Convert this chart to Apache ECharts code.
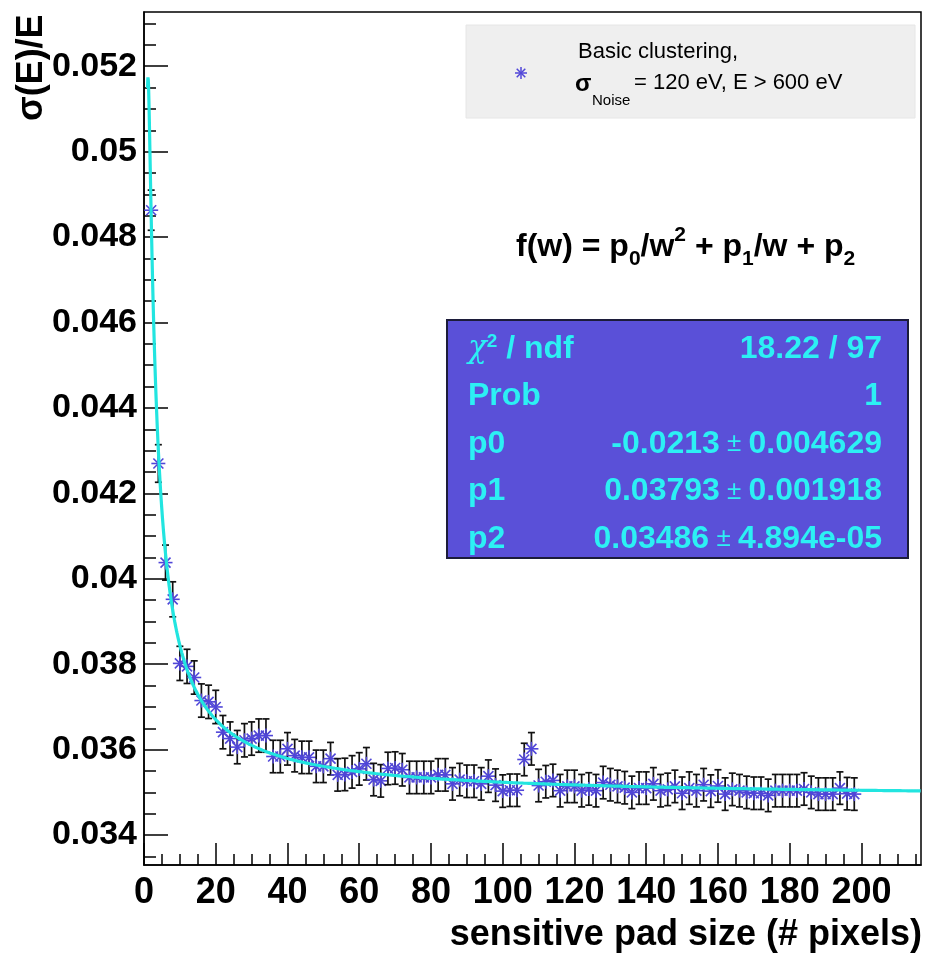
<!DOCTYPE html>
<html><head><meta charset="utf-8">
<script src="https://cdn.jsdelivr.net/npm/echarts@6/dist/echarts.min.js"></script>
<style>html,body{margin:0;padding:0;background:#fff}#c{width:926px;height:954px}</style>
</head><body><div id="c"></div>
<script>
// ---- data ----
const padSize = [2,4,6,8,10,12,14,16,18,20,22,24,26,28,30,32,34,36,38,40,42,44,46,48,50,52,54,56,58,60,62,64,66,68,70,72,74,76,78,80,82,84,86,88,90,92,94,96,98,100,102,104,106,108,110,112,114,116,118,120,122,124,126,128,130,132,134,136,138,140,142,144,146,148,150,152,154,156,158,160,162,164,166,168,170,172,174,176,178,180,182,184,186,188,190,192,194,196,198];
const sigmaE = [0.04863,0.04270,0.04038,0.03952,0.03802,0.03795,0.03769,0.03715,0.03712,0.03700,
0.03641,0.03626,0.03606,0.03622,0.03626,0.03633,0.03633,0.03584,0.03584,0.03602,
0.03586,0.03582,0.03582,0.03561,0.03561,0.03579,0.03541,0.03542,0.03548,0.03555,
0.03567,0.03530,0.03527,0.03556,0.03557,0.03553,0.03535,0.03535,0.03535,0.03535,
0.03541,0.03541,0.03520,0.03530,0.03526,0.03526,0.03520,0.03538,0.03517,0.03503,
0.03505,0.03505,0.03577,0.03602,0.03516,0.03525,0.03528,0.03504,0.03514,0.03514,
0.03504,0.03508,0.03504,0.03523,0.03518,0.03514,0.03511,0.03500,0.03510,0.03510,
0.03520,0.03504,0.03507,0.03514,0.03498,0.03510,0.03504,0.03518,0.03503,0.03515,
0.03496,0.03507,0.03504,0.03500,0.03498,0.03498,0.03493,0.03504,0.03504,0.03504,
0.03504,0.03508,0.03500,0.03496,0.03496,0.03496,0.03510,0.03497,0.03496];
const sigmaErr = [0.00047,0.00044,0.00041,0.00041,0.00040,0.00040,0.00039,0.00039,0.00039,0.00039,
0.00039,0.00039,0.00039,0.00039,0.00039,0.00039,0.00039,0.00038,0.00038,0.00038,
0.00038,0.00038,0.00038,0.00038,0.00038,0.00038,0.00038,0.00038,0.00038,0.00038,
0.00038,0.00038,0.00038,0.00038,0.00038,0.00038,0.00038,0.00038,0.00038,0.00038,
0.00038,0.00038,0.00038,0.00038,0.00038,0.00038,0.00038,0.00038,0.00038,0.00038,
0.00038,0.00038,0.00038,0.00038,0.00038,0.00038,0.00038,0.00038,0.00038,0.00038,
0.00038,0.00038,0.00038,0.00038,0.00038,0.00038,0.00038,0.00038,0.00038,0.00038,
0.00038,0.00038,0.00038,0.00038,0.00038,0.00038,0.00038,0.00038,0.00038,0.00038,
0.00038,0.00038,0.00038,0.00038,0.00038,0.00038,0.00038,0.00038,0.00038,0.00038,
0.00038,0.00038,0.00038,0.00038,0.00038,0.00038,0.00038,0.00038,0.00038];
// fit f(w) = p0/w^2 + p1/w + p2 (parameters from the stats box)
const fitParams = [-0.0213, 0.03793, 0.03486];
const fitRange = [1, 216.6];
const yMajorTicks = [0.034,0.036,0.038,0.040,0.042,0.044,0.046,0.048,0.050,0.052];
const yMinorTicks = [0.0335,0.0345,0.035,0.0355,0.0365,0.037,0.0375,0.0385,0.039,0.0395,0.0405,0.041,0.0415,0.0425,0.043,0.0435,0.0445,0.045,0.0455,0.0465,0.047,0.0475,0.0485,0.049,0.0495,0.0505,0.051,0.0515,0.0525,0.053];
const xMajorTicks = [0,20,40,60,80,100,120,140,160,180,200];
const xMinorTicks = [5,10,15,25,30,35,45,50,55,65,70,75,85,90,95,105,110,115,125,130,135,145,150,155,165,170,175,185,190,195,205,210,215];
const statsLabels = ['χ2 / ndf','Prob','p0','p1','p2'];
const statsValues = ['18.22 / 97','1','-0.0213|0.004629','0.03793|0.001918','0.03486|4.894e-05'];
const legendLines = ['Basic clustering,','= 120 eV, E > 600 eV'];

const X_MIN = 0, X_MAX = 216.6, Y_MIN = 0.03330, Y_MAX = 0.05327;
const STAR = '#5046d8', CYAN = '#22e5e0', STATC = '#2cf0f4';
const FONT = '"Liberation Sans", Arial, Helvetica, sans-serif';

// fit curve built from the fitted parameters (fine sampling so the peak near w=1.1 is kept)
const fitCurve = [];
for (let w = fitRange[0]; w <= fitRange[1] + 1e-9; w += (w < 10 ? 0.02 : 0.25)) {
  fitCurve.push([w, fitParams[0]/(w*w) + fitParams[1]/w + fitParams[2]]);
}
const pts = padSize.map((x,i)=>[x, sigmaE[i], sigmaErr[i]]);

const chart = echarts.init(document.getElementById('c'), null, {renderer:'canvas'});
const fmtY = v => String(parseFloat(Number(v).toFixed(4)));

function starLines(cx, cy, r, d, style){
  return [
    {type:'line', shape:{x1:cx-r,y1:cy,x2:cx+r,y2:cy}, style:style},
    {type:'line', shape:{x1:cx,y1:cy-r,x2:cx,y2:cy+r}, style:style},
    {type:'line', shape:{x1:cx-d,y1:cy-d,x2:cx+d,y2:cy+d}, style:style},
    {type:'line', shape:{x1:cx-d,y1:cy+d,x2:cx+d,y2:cy-d}, style:style}
  ];
}

const option = {
  animation:false,
  backgroundColor:'#fff',
  grid:{left:144, right:5, top:12, bottom:89, show:true, borderColor:'#000', borderWidth:1.5, backgroundColor:'transparent'},
  xAxis:[
    {type:'value', min:X_MIN, max:X_MAX, position:'bottom',
     axisLine:{show:true, onZero:false, lineStyle:{color:'#000', width:1.5}},
     axisTick:{show:true, inside:true, length:22, customValues:xMajorTicks, lineStyle:{color:'#000', width:1.5}},
     axisLabel:{show:true, customValues:xMajorTicks, margin:10, color:'#000', fontFamily:FONT, fontWeight:'bold', fontSize:36, formatter:v=>String(v)},
     splitLine:{show:false}},
    {type:'value', min:X_MIN, max:X_MAX, position:'bottom',
     axisLine:{show:false},
     axisTick:{show:true, inside:true, length:11, customValues:xMinorTicks, lineStyle:{color:'#000', width:1.5}},
     axisLabel:{show:false}, splitLine:{show:false}}
  ],
  yAxis:[
    {type:'value', min:Y_MIN, max:Y_MAX, position:'left',
     axisLine:{show:true, onZero:false, lineStyle:{color:'#000', width:1.5}},
     axisTick:{show:true, inside:true, length:24, customValues:yMajorTicks, lineStyle:{color:'#000', width:1.5}},
     axisLabel:{show:true, customValues:yMajorTicks, margin:7, color:'#000', fontFamily:FONT, fontWeight:'bold', fontSize:34, formatter:fmtY},
     splitLine:{show:false}},
    {type:'value', min:Y_MIN, max:Y_MAX, position:'left',
     axisLine:{show:false},
     axisTick:{show:true, inside:true, length:12, customValues:yMinorTicks, lineStyle:{color:'#000', width:1.5}},
     axisLabel:{show:false}, splitLine:{show:false}}
  ],
  series:[
    {type:'custom', xAxisIndex:0, yAxisIndex:0, clip:true, data:pts, z:2,
     renderItem:function(params, api){
       const x = api.value(0), y = api.value(1), e = api.value(2);
       const p = api.coord([x,y]);
       const t = api.coord([x,y+e]);
       const b = api.coord([x,y-e]);
       const cap = 3.5;
       const es = {stroke:'#111', lineWidth:1.7};
       const ss = {stroke:STAR, lineWidth:1.6};
       return {type:'group', children:[
         {type:'line', shape:{x1:p[0],y1:t[1],x2:p[0],y2:b[1]}, style:es},
         {type:'line', shape:{x1:p[0]-cap,y1:t[1],x2:p[0]+cap,y2:t[1]}, style:es},
         {type:'line', shape:{x1:p[0]-cap,y1:b[1],x2:p[0]+cap,y2:b[1]}, style:es}
       ].concat(starLines(p[0], p[1], 7, 5, ss))};
     }},
    {type:'line', xAxisIndex:0, yAxisIndex:0, data:fitCurve, showSymbol:false, symbol:'none', clip:true, z:3,
     lineStyle:{color:CYAN, width:3.2}}
  ],
  graphic:[
    // y axis title
    {type:'text', x:32, y:121, rotation:Math.PI/2,
     style:{text:'σ(E)/E', font:'bold 36px '+FONT, fill:'#000', align:'left', verticalAlign:'middle'}},
    // x axis title
    {type:'text', x:922, y:935,
     style:{text:'sensitive pad size (# pixels)', font:'bold 36px '+FONT, fill:'#000', align:'right', verticalAlign:'middle'}},
    // legend box
    {type:'rect', shape:{x:466, y:25, width:449, height:93},
     style:{fill:'#efefef', stroke:'#e6e6e6', lineWidth:1}},
    {type:'group', x:521, y:73, children:starLines(0, 0, 6, 4.3, {stroke:STAR, lineWidth:1.5})},
    {type:'text', x:578, y:52, style:{text:legendLines[0], font:'22px '+FONT, fill:'#000', align:'left', verticalAlign:'middle'}},
    {type:'text', x:575, y:84, style:{text:'σ', font:'bold 24px '+FONT, fill:'#000', align:'left', verticalAlign:'middle'}},
    {type:'text', x:592, y:101, style:{text:'Noise', font:'15px '+FONT, fill:'#000', align:'left', verticalAlign:'middle'}},
    {type:'text', x:634, y:83, style:{text:legendLines[1], font:'22px '+FONT, fill:'#000', align:'left', verticalAlign:'middle'}},
    // formula
    {type:'text', x:516, y:247, style:{
      text:'{n|f(w) = p}{sub|0}{n|/w}{sup|2}{n| + p}{sub|1}{n|/w + p}{sub|2}',
      align:'left', verticalAlign:'middle', fill:'#000',
      rich:{
        n:{font:'bold 32px '+FONT, fill:'#000', lineHeight:48, verticalAlign:'middle'},
        sub:{font:'bold 21px '+FONT, fill:'#000', lineHeight:48, verticalAlign:'bottom', padding:[0,0,1,0]},
        sup:{font:'bold 21px '+FONT, fill:'#000', lineHeight:48, verticalAlign:'top', padding:[2,0,0,0]}
      }}},
    // stats box
    {type:'rect', shape:{x:447, y:320, width:461, height:238},
     style:{fill:'#5a50d8', stroke:'#1c1c3a', lineWidth:2}},
    {type:'text', x:468, y:349, style:{
      text:'{c|χ}{s|2}{n| / ndf}', align:'left', verticalAlign:'middle',
      rich:{
        c:{font:'italic 31px "DejaVu Serif", serif', fill:STATC, lineHeight:40, verticalAlign:'middle'},
        s:{font:'bold 19px '+FONT, fill:STATC, lineHeight:40, verticalAlign:'top', padding:[3,0,0,0]},
        n:{font:'bold 32px '+FONT, fill:STATC, lineHeight:40, verticalAlign:'middle'}
      }}},
    ...[1,2,3,4].map(i=>({type:'text', x:468, y:349+47.5*i, style:{
      text:statsLabels[i], font:'bold 32px '+FONT, fill:STATC, align:'left', verticalAlign:'middle'}})),
    ...[0,1,2,3,4].map(i=>{
      const parts = statsValues[i].split('|');
      const txt = parts.length>1 ? '{n|'+parts[0]+'}{pm| ± }{n|'+parts[1]+'}' : '{n|'+parts[0]+'}';
      return {type:'text', x:882, y:349+47.5*i, style:{
        text:txt, align:'right', verticalAlign:'middle',
        rich:{
          n:{font:'bold 32px '+FONT, fill:STATC, lineHeight:40},
          pm:{font:'26px '+FONT, fill:STATC, lineHeight:40}
        }}};
    })
  ]
};
chart.setOption(option);
</script>
</body></html>
